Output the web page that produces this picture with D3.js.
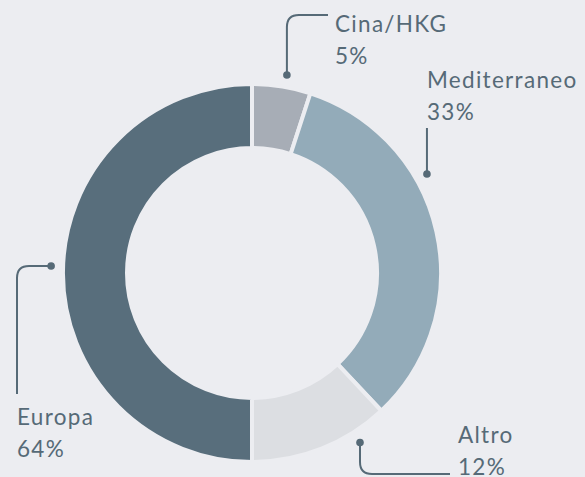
<!DOCTYPE html>
<html>
<head>
<meta charset="utf-8">
<script src="https://cdn.jsdelivr.net/npm/d3@7"></script>
<style>
  html, body { margin: 0; padding: 0; background: #ecedf1; }
  svg { display: block; }
  .lbl { font-family: Lato, "Open Sans", sans-serif; font-size: 22.5px; fill: #566a77; letter-spacing: 1.3px; }
</style>
</head>
<body>
<div id="chart"></div>
<script>
// data (arc share vs printed label)
var categories = ["Cina/HKG", "Mediterraneo", "Altro", "Europa"];
var shares = [5, 33, 12, 50];
var pctLabels = ["5%", "33%", "12%", "64%"];
var colors = ["#a7adb6", "#93abb9", "#dcdee2", "#586e7c"];

var width = 585, height = 477;
var cx = 252, cy = 273;
var outerR = 189, innerR = 125;
var bg = "#ecedf1";
var ink = "#566a77";

var svg = d3.select("#chart").append("svg")
    .attr("width", width)
    .attr("height", height);

svg.append("rect").attr("width", width).attr("height", height).attr("fill", bg);

var g = svg.append("g").attr("transform", "translate(" + cx + "," + cy + ")");

var pie = d3.pie().value(function(d){ return d; }).sort(null);
var arc = d3.arc().innerRadius(innerR).outerRadius(outerR);

g.selectAll("path.slice")
    .data(pie(shares))
    .enter()
    .append("path")
    .attr("class", "slice")
    .attr("d", arc)
    .attr("fill", function(d, i){ return colors[i]; })
    .attr("stroke", bg)
    .attr("stroke-width", 4);

// leader layout: dot angle (deg from top), then elbow path
var leaders = [
    {angle: 10, dir: "up-right", y: 15, x: 328, tx: 335, ty: 32},
    {angle: 60.5, dir: "up", y: 128, tx: 427, ty: 88},
    {angle: 147.5, dir: "down-right", y: 474, x: 450, tx: 458, ty: 443},
    {angle: 272, dir: "left-down", x: 17, y: 394, tx: 17, ty: 425}
];

var rc = 12;
leaders.forEach(function(l, i){
    var p = d3.pointRadial(l.angle * Math.PI / 180, 201);
    var px = cx + p[0], py = cy + p[1];
    var d;
    if(l.dir == "up-right"){
        d = "M"+px+","+py+"L"+px+","+(l.y+rc)+"Q"+px+","+l.y+" "+(px+rc)+","+l.y+"L"+l.x+","+l.y;
    } else if(l.dir == "up"){
        d = "M"+px+","+py+"L"+px+","+l.y;
    } else if(l.dir == "down-right"){
        d = "M"+px+","+py+"L"+px+","+(l.y-rc)+"Q"+px+","+l.y+" "+(px+rc)+","+l.y+"L"+l.x+","+l.y;
    } else {
        d = "M"+px+","+py+"L"+(l.x+rc)+","+py+"Q"+l.x+","+py+" "+l.x+","+(py+rc)+"L"+l.x+","+l.y;
    }
    svg.append("path").attr("d", d).attr("fill", "none").attr("stroke", ink).attr("stroke-width", 2);
    svg.append("circle").attr("cx", px).attr("cy", py).attr("r", 3.8).attr("fill", ink);

    var t = svg.append("text").attr("class", "lbl").attr("x", l.tx).attr("y", l.ty);
    t.append("tspan").attr("x", l.tx).text(categories[i]);
    t.append("tspan").attr("x", l.tx).attr("dy", 31.5).text(pctLabels[i]);
});
</script>
</body>
</html>
